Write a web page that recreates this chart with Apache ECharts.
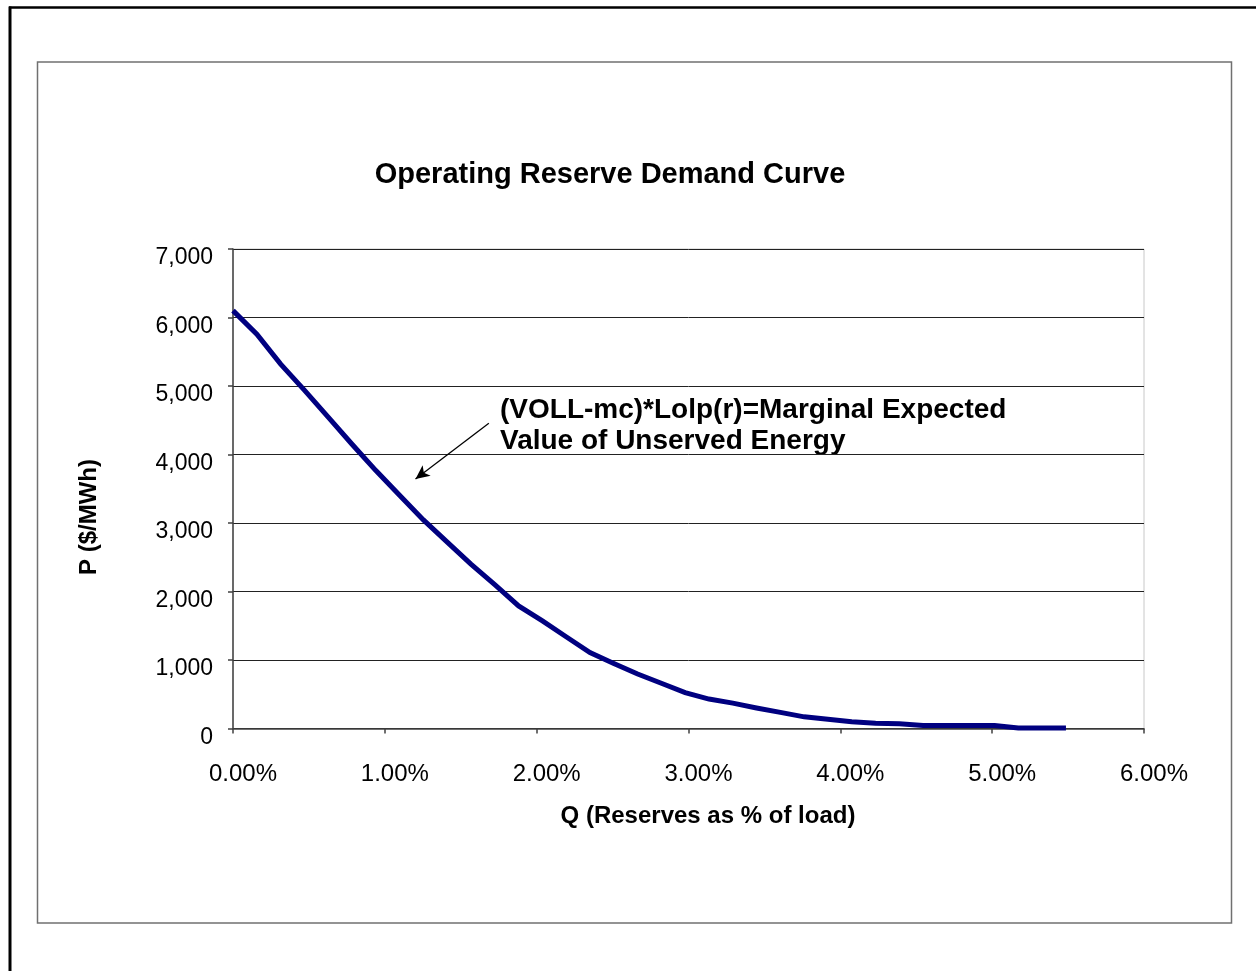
<!DOCTYPE html>
<html>
<head>
<meta charset="utf-8">
<script src="https://cdn.jsdelivr.net/npm/echarts@6/dist/echarts.min.js"></script>
<style>
html,body{margin:0;padding:0;background:#fff;}
#chart{width:1256px;height:971px;}
</style>
</head>
<body>
<div id="chart"></div>
<script>
// Reserves as % of load (x) and price in $/MWh (y)
var xValues = [0, 0.157, 0.314, 0.470, 0.627, 0.784, 0.941, 1.097, 1.254, 1.411,
  1.567, 1.724, 1.881, 2.038, 2.194, 2.351, 2.508, 2.665, 2.821, 2.978,
  3.135, 3.292, 3.448, 3.605, 3.762, 3.918, 4.075, 4.232, 4.389, 4.545,
  4.702, 4.859, 5.016, 5.172, 5.329, 5.486];
var priceValues = [6100, 5755, 5320, 4940, 4545, 4150, 3765, 3405, 3045, 2720,
  2400, 2100, 1790, 1570, 1340, 1110, 950, 795, 660, 525,
  430, 370, 300, 235, 170, 135, 100, 75, 70, 45,
  45, 45, 45, 8, 8, 8];
var xTicks = [0, 1, 2, 3, 4, 5, 6];
var yTicks = [0, 1000, 2000, 3000, 4000, 5000, 6000, 7000];
var titleText = 'Operating Reserve Demand Curve';
var xAxisTitle = 'Q (Reserves as % of load)';
var yAxisTitle = 'P ($/MWh)';
var noteLines = ['(VOLL-mc)*Lolp(r)=Marginal Expected', 'Value of Unserved Energy'];
// arrow from label to curve, in data units (x %, y $/MWh)
var arrowFrom = [1.685, 4455];
var arrowTo = [1.202, 3642];

var seriesData = xValues.map(function (x, i) { return [x, priceValues[i]]; });
var FONT = '"Liberation Sans", Arial, sans-serif';

var chart = echarts.init(document.getElementById('chart'), null, {renderer: 'canvas'});
chart.setOption({
  animation: false,
  backgroundColor: '#fff',
  grid: {left: 233, right: 112, top: 249, bottom: 242.5, show: true,
         borderColor: '#c8c8c8', borderWidth: 1, backgroundColor: 'transparent'},
  xAxis: {
    type: 'value', min: xTicks[0], max: xTicks[xTicks.length - 1], interval: 1,
    axisLine: {show: true, lineStyle: {color: '#404040', width: 1.5}},
    axisTick: {show: true, inside: false, length: 5, lineStyle: {color: '#404040', width: 1.5}},
    splitLine: {show: false},
    axisLabel: {color: '#000', fontFamily: FONT, fontSize: 24, margin: 34,
                padding: [0, 0, 0, 20],
                formatter: function (v) { return v.toFixed(2) + '%'; }}
  },
  yAxis: {
    type: 'value', min: yTicks[0], max: yTicks[yTicks.length - 1], interval: 1000,
    axisLine: {show: true, lineStyle: {color: '#404040', width: 1.5}},
    axisTick: {show: true, inside: false, length: 5, lineStyle: {color: '#404040', width: 1.5}},
    splitLine: {show: true, lineStyle: {color: '#222', width: 1}},
    axisLabel: {color: '#000', fontFamily: FONT, fontSize: 23, margin: 20,
                verticalAlign: 'top', lineHeight: 18,
                formatter: function (v) { return v.toLocaleString('en-US'); }}
  },
  series: [{
    type: 'line',
    data: seriesData,
    showSymbol: false,
    symbol: 'none',
    lineStyle: {color: '#000080', width: 5, cap: 'butt', join: 'miter'},
    z: 3,
    markLine: {
      silent: true,
      symbol: ['none', 'arrow'],
      symbolSize: [10, 14],
      label: {show: false},
      lineStyle: {color: '#000', width: 1.3, type: 'solid'},
      data: [[{coord: arrowFrom}, {coord: arrowTo}]]
    }
  }],
  graphic: [
    {type: 'line', shape: {x1: 9, y1: 7.5, x2: 1256, y2: 7.5}, style: {stroke: '#000', lineWidth: 2.5}},
    {type: 'line', shape: {x1: 10, y1: 6.5, x2: 10, y2: 971}, style: {stroke: '#000', lineWidth: 3}},
    {type: 'rect', shape: {x: 37.5, y: 62, width: 1194, height: 861}, style: {fill: 'none', stroke: '#707070', lineWidth: 1.5}, z: -1},
    {type: 'text', x: 610, y: 175, style: {text: titleText, fontFamily: FONT, fontSize: 29, fontWeight: 'bold', fill: '#000',
      textAlign: 'center', textVerticalAlign: 'middle'}},
    {type: 'text', x: 500, y: 410, style: {text: noteLines[0], fontFamily: FONT, fontSize: 28, fontWeight: 'bold', fill: '#000',
      textAlign: 'left', textVerticalAlign: 'middle'}},
    {type: 'text', x: 500, y: 441, style: {text: noteLines[1], fontFamily: FONT, fontSize: 28, fontWeight: 'bold', fill: '#000',
      textAlign: 'left', textVerticalAlign: 'middle'}},
    {type: 'text', x: 708, y: 816, style: {text: xAxisTitle, fontFamily: FONT, fontSize: 24, fontWeight: 'bold', fill: '#000',
      textAlign: 'center', textVerticalAlign: 'middle'}},
    {type: 'text', x: 89, y: 517, rotation: Math.PI / 2, style: {text: yAxisTitle, fontFamily: FONT, fontSize: 24, fontWeight: 'bold', fill: '#000',
      textAlign: 'center', textVerticalAlign: 'middle'}}
  ]
});
</script>
</body>
</html>
